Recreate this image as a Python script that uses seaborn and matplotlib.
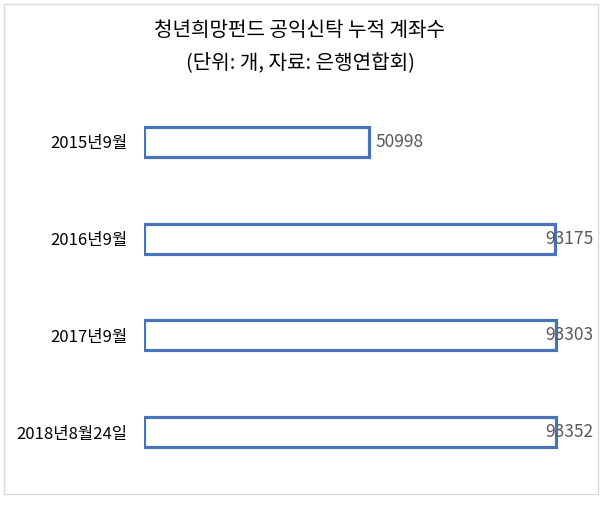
import seaborn as sns
import matplotlib.pyplot as plt
import matplotlib.patches as mpatches
import pandas as pd

periods = ["2015년9월", "2016년9월", "2017년9월", "2018년8월24일"]
accounts = [50998, 93175, 93303, 93352]

title_lines = ["청년희망펀드 공익신탁 누적 계좌수", "(단위: 개, 자료: 은행연합회)"]

sns.set_style("white")
plt.rcParams["font.family"] = ["Noto Sans CJK KR", "DejaVu Sans"]

df = pd.DataFrame({"period": periods, "accounts": accounts})

W, H = 606, 505
fig = plt.figure(figsize=(W / 100, H / 100), dpi=100)
ax = fig.add_axes([144 / W, 24.5 / H, (593 - 144) / W, 387 / H])

sns.barplot(data=df, x="accounts", y="period", orient="h", ax=ax,
            color="white", edgecolor="#4a72b8", linewidth=2.3, width=0.31,
            saturation=1)

xmax = 93175 * (593 - 144) / (555 - 144)
ax.set_xlim(0, xmax)
ax.set_ylim(3.5, -0.5)
ax.set_xlabel("")
ax.set_ylabel("")
ax.set_xticks([])
sns.despine(ax=ax, left=True, bottom=True)
ax.tick_params(axis="y", length=0, pad=12, labelsize=12, labelcolor="black")

for i, v in enumerate(accounts):
    if v / xmax < 0.85:
        ax.annotate(str(v), (v, i), xytext=(5, 0), textcoords="offset points",
                    ha="left", va="center", fontsize=12.5, color="#595959")
    else:
        ax.annotate(str(v), (1.0, i), xycoords=("axes fraction", "data"),
                    ha="right", va="center", fontsize=12.5, color="#595959")

for line, ypx in zip(title_lines, [30, 63]):
    fig.text(300 / W, 1 - ypx / H, line, ha="center", va="center",
             fontsize=14.5, color="black")

fig.patches.append(mpatches.Rectangle((4 / W, 11 / H), 594 / W, 490 / H,
                                      transform=fig.transFigure, fill=False,
                                      edgecolor="#d9d9d9", linewidth=1))

fig.savefig("out.png", dpi=100)
